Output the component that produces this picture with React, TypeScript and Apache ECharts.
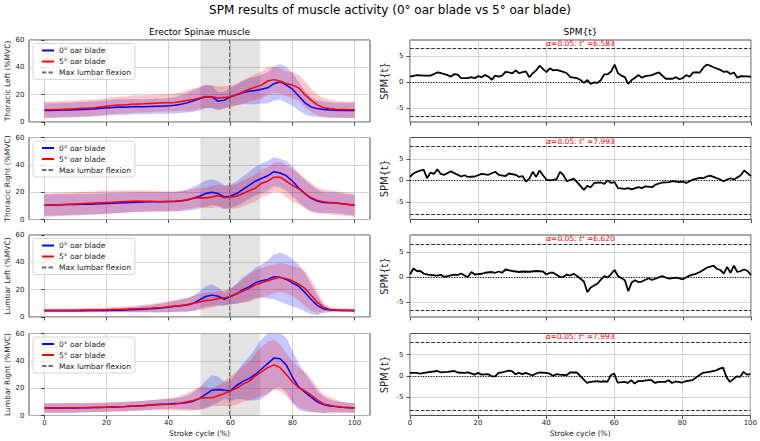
import { useEffect, useRef } from "react";
import * as echarts from "echarts";

// ---------------------------------------------------------------------------
// Data
// ---------------------------------------------------------------------------

// Stroke-cycle sample points (% of stroke) for the EMG mean / SD curves
const strokePct = [
  0, 2, 4, 6, 8, 10, 12, 14, 16, 18, 20, 22, 24, 26, 28, 30, 32, 34, 36, 38, 40,
  42, 44, 46, 48, 50, 52, 54, 56, 58, 60, 62, 64, 66, 68, 70, 72, 74, 76, 78, 80,
  82, 84, 86, 88, 90, 92, 94, 96, 98, 100,
];

const muscles = ["Thoracic Left", "Thoracic Right", "Lumbar Left", "Lumbar Right"];
const conditions = ["0° oar blade", "5° oar blade"];
const flexionLabel = "Max lumbar flexion";

// Thoracic Left (%MVC)
const tlBlueMean = [8.5, 8.5, 8.6, 8.7, 8.8, 9.0, 9.2, 9.4, 9.6, 10.0, 10.3, 10.6, 11.0, 10.8, 11.2, 11.3, 11.2, 11.4, 11.6, 11.5, 11.8, 12.2, 13.0, 14.0, 15.5, 17.0, 18.5, 18.3, 15.2, 16.0, 18.5, 20.0, 21.5, 22.5, 23.0, 24.0, 25.0, 28.0, 29.5, 27.0, 24.0, 19.0, 14.0, 11.0, 9.8, 9.2, 8.8, 8.6, 8.5, 8.5, 8.5];
const tlBlueSd = [5.3, 5.3, 5.3, 5.3, 5.3, 5.4, 5.4, 5.5, 5.5, 5.6, 5.6, 5.7, 5.8, 5.6, 5.7, 5.6, 5.5, 5.6, 5.6, 5.6, 5.8, 6.0, 6.5, 7.0, 8.0, 8.5, 8.5, 8.0, 6.5, 6.0, 6.5, 7.5, 8.5, 9.5, 10.0, 10.5, 11.5, 12.5, 13.0, 13.0, 12.0, 10.5, 8.5, 7.0, 6.0, 5.8, 5.6, 5.5, 5.5, 5.5, 5.5];
const tlRedMean = [9.0, 9.0, 9.2, 9.3, 9.5, 9.7, 10.0, 10.2, 10.5, 11.0, 11.5, 12.0, 12.5, 12.5, 13.0, 13.2, 13.3, 13.5, 13.8, 14.0, 14.0, 14.3, 15.0, 15.8, 16.5, 17.5, 18.7, 18.5, 17.5, 18.0, 18.5, 20.0, 22.0, 24.0, 25.5, 27.0, 30.0, 31.0, 30.0, 28.0, 27.0, 25.0, 20.0, 16.0, 12.5, 10.5, 9.8, 9.4, 9.2, 9.0, 9.0];
const tlRedSd = [6.0, 6.0, 6.0, 6.0, 6.0, 6.0, 6.0, 6.0, 6.0, 6.0, 6.0, 6.2, 6.2, 6.2, 6.3, 6.3, 6.3, 6.3, 6.3, 6.3, 6.3, 6.5, 6.8, 7.5, 8.0, 8.0, 8.3, 8.5, 8.5, 8.3, 8.0, 8.2, 8.5, 9.0, 9.5, 10.0, 10.0, 9.5, 9.2, 9.2, 9.5, 9.5, 9.5, 8.5, 7.5, 7.0, 6.5, 6.2, 6.0, 6.0, 6.0];

// Thoracic Right (%MVC)
const trBlueMean = [10.5, 10.6, 10.7, 10.8, 10.9, 11.0, 11.1, 11.2, 11.4, 11.5, 11.7, 11.9, 12.1, 12.3, 12.5, 12.7, 12.8, 12.9, 13.0, 13.0, 13.1, 13.2, 13.5, 14.2, 15.5, 17.0, 19.0, 20.0, 19.0, 16.5, 17.0, 19.0, 22.0, 25.0, 28.0, 30.0, 32.0, 35.0, 34.0, 32.0, 28.0, 23.0, 19.0, 15.5, 13.5, 12.5, 12.2, 12.0, 11.5, 11.0, 10.5];
const trBlueSd = [7.8, 7.8, 7.7, 7.7, 7.6, 7.6, 7.5, 7.5, 7.5, 7.5, 7.5, 7.4, 7.3, 7.3, 7.2, 7.2, 7.1, 7.0, 7.0, 7.0, 7.0, 7.0, 7.2, 7.8, 8.5, 9.0, 9.5, 9.5, 9.0, 8.5, 8.5, 9.0, 9.5, 10.0, 10.5, 11.0, 11.0, 10.5, 10.5, 11.0, 11.0, 10.5, 10.0, 9.5, 8.5, 7.5, 7.5, 7.5, 7.5, 7.5, 7.5];
const trRedMean = [10.5, 10.6, 10.8, 11.0, 11.2, 11.4, 11.6, 11.8, 12.0, 12.3, 12.5, 12.7, 13.0, 13.2, 13.4, 13.5, 13.4, 13.3, 13.2, 13.2, 13.2, 13.4, 13.8, 14.5, 15.5, 16.0, 15.8, 16.5, 17.5, 16.0, 16.5, 17.0, 19.0, 21.0, 23.0, 26.5, 28.0, 31.0, 31.0, 28.0, 25.0, 22.5, 19.0, 16.0, 14.0, 13.0, 12.5, 12.0, 11.5, 11.0, 10.5];
const trRedSd = [8.5, 8.5, 8.5, 8.5, 8.5, 8.5, 8.5, 8.5, 8.5, 8.5, 8.5, 8.4, 8.3, 8.2, 8.0, 7.9, 7.8, 7.7, 7.6, 7.5, 7.5, 7.3, 7.2, 7.0, 7.0, 7.0, 7.5, 8.0, 8.3, 8.5, 8.5, 9.0, 9.5, 9.5, 10.0, 10.0, 10.3, 10.5, 11.0, 11.5, 12.0, 11.5, 11.0, 10.5, 9.5, 9.0, 8.8, 8.7, 8.6, 8.5, 8.5];

// Lumbar Left (%MVC)
const llBlueMean = [4.5, 4.5, 4.5, 4.5, 4.5, 4.6, 4.6, 4.7, 4.7, 4.8, 4.8, 4.9, 5.0, 5.1, 5.3, 5.5, 5.7, 6.0, 6.3, 6.7, 7.2, 7.8, 8.3, 8.8, 10.0, 12.5, 15.0, 16.0, 15.2, 13.0, 15.0, 17.0, 20.0, 22.0, 25.0, 26.5, 27.5, 29.5, 29.0, 27.5, 25.0, 22.5, 18.0, 13.0, 8.5, 6.0, 5.2, 5.0, 4.8, 4.7, 4.6];
const llBlueSd = [1.0, 1.0, 1.0, 1.0, 1.1, 1.1, 1.2, 1.2, 1.3, 1.3, 1.4, 1.4, 1.5, 1.6, 1.8, 2.0, 2.3, 2.6, 3.0, 3.3, 3.6, 4.0, 4.5, 5.0, 5.5, 6.5, 7.5, 8.0, 6.5, 4.5, 5.5, 7.5, 9.0, 10.0, 11.0, 12.0, 14.0, 16.5, 18.0, 18.0, 17.5, 16.0, 14.0, 11.0, 7.0, 3.0, 1.5, 1.2, 1.0, 1.0, 1.0];
const llRedMean = [5.0, 5.0, 5.0, 5.0, 5.0, 5.0, 5.1, 5.1, 5.2, 5.2, 5.3, 5.4, 5.5, 5.7, 5.9, 6.0, 6.2, 6.4, 6.7, 7.0, 7.5, 8.0, 8.5, 9.0, 10.0, 11.0, 12.0, 12.5, 13.5, 14.0, 15.0, 17.0, 19.0, 21.0, 23.5, 25.0, 26.5, 28.0, 29.0, 28.0, 26.5, 24.0, 21.0, 16.0, 11.0, 7.0, 5.5, 5.1, 5.0, 5.0, 5.0];
const llRedSd = [1.2, 1.2, 1.2, 1.3, 1.3, 1.4, 1.4, 1.5, 1.5, 1.6, 1.6, 1.7, 1.8, 2.0, 2.2, 2.5, 2.8, 3.0, 3.3, 3.6, 4.0, 4.3, 4.7, 5.0, 5.5, 6.0, 6.0, 5.8, 5.5, 5.5, 6.0, 7.0, 8.5, 10.0, 10.5, 11.0, 11.0, 10.5, 10.5, 10.8, 11.0, 12.0, 13.0, 11.5, 8.0, 3.0, 1.3, 1.2, 1.2, 1.2, 1.2];

// Lumbar Right (%MVC)
const lrBlueMean = [5.5, 5.5, 5.5, 5.5, 5.5, 5.5, 5.6, 5.7, 5.8, 5.9, 6.0, 6.2, 6.4, 6.5, 6.8, 7.0, 7.3, 7.7, 8.0, 8.3, 8.5, 8.8, 9.0, 9.5, 10.5, 12.5, 15.5, 18.5, 19.0, 18.5, 18.0, 22.0, 25.0, 27.0, 30.0, 34.0, 38.0, 42.0, 41.5, 37.0, 28.0, 21.0, 17.0, 13.5, 10.0, 8.0, 7.0, 6.5, 6.0, 5.8, 5.5];
const lrBlueSd = [3.5, 3.5, 3.5, 3.4, 3.4, 3.4, 3.3, 3.3, 3.3, 3.3, 3.3, 3.3, 3.3, 3.4, 3.4, 3.4, 3.4, 3.5, 3.5, 3.5, 3.5, 3.8, 4.2, 5.0, 6.5, 8.0, 10.0, 11.0, 9.5, 6.0, 7.0, 10.0, 13.0, 16.0, 19.0, 22.0, 22.5, 22.0, 21.0, 20.0, 19.0, 17.0, 14.0, 11.0, 8.0, 6.0, 4.5, 4.0, 3.8, 3.6, 3.5];
const lrRedMean = [5.5, 5.5, 5.5, 5.5, 5.6, 5.6, 5.7, 5.8, 5.9, 6.0, 6.0, 6.2, 6.4, 6.5, 6.8, 7.0, 7.2, 7.5, 7.8, 8.0, 8.2, 8.5, 9.0, 10.0, 11.0, 12.5, 13.0, 13.0, 14.5, 16.0, 18.0, 20.0, 23.0, 25.0, 29.0, 32.0, 35.0, 37.0, 35.0, 30.0, 24.5, 20.5, 18.0, 15.0, 11.5, 8.5, 7.5, 6.5, 6.0, 5.7, 5.5];
const lrRedSd = [3.5, 3.5, 3.5, 3.5, 3.5, 3.5, 3.5, 3.5, 3.5, 3.5, 3.5, 3.5, 3.5, 3.5, 3.5, 3.5, 3.6, 3.7, 3.8, 4.0, 4.3, 4.7, 5.5, 6.5, 7.5, 8.5, 8.0, 6.5, 7.5, 9.0, 11.0, 12.0, 13.0, 14.0, 16.0, 18.0, 19.0, 18.5, 17.0, 16.0, 15.0, 14.5, 14.0, 12.0, 9.0, 7.0, 6.0, 5.0, 4.0, 3.7, 3.5];

// SPM{t} trajectories: [stroke %, t]
const spmThoracicLeft: [number, number][] = [[0, 1.1], [2, 1.4], [4, 1.3], [6, 1.3], [8, 1.9], [9, 1.8], [11, 1.4], [12, 1.1], [13, 1.6], [14, 1.5], [15, 0.8], [17, 0.8], [18, 1.0], [19, 0.8], [20, 1.2], [21, 1.0], [22, 1.4], [23, 1.1], [24, 0.5], [25, 1.3], [26, 1.1], [27, 1.3], [28, 2.0], [29, 1.9], [30, 1.75], [31, 2.3], [32, 1.75], [33, 1.95], [34, 2.1], [35, 1.0], [36, 1.75], [37, 2.3], [38, 3.2], [39, 2.6], [40, 1.95], [41, 2.7], [42, 2.3], [43, 2.4], [45, 2.0], [46, 1.75], [47, 1.0], [49, 0.8], [50, 0.45], [51, -0.1], [52, 0.45], [53, -0.3], [54, 0], [55, -0.1], [56, 0.45], [57, 1.55], [58, 1.55], [59, 2.1], [60, 3.4], [61, 1.75], [62, 1.3], [63, 1.0], [64, -0.3], [65, 0.45], [66, 0.9], [67, 1.4], [68, 0.9], [69, 1.2], [71, 1.4], [72, 1.7], [73, 1.9], [74, 1.3], [75, 0.7], [77, 0.7], [78, 1.0], [79, 0.6], [80, 0.8], [81, 1.4], [82, 1.1], [83, 1.9], [85, 1.9], [86, 2.8], [87, 3.4], [88, 3.2], [89, 2.9], [91, 2.4], [92, 2.0], [93, 2.1], [94, 1.6], [95, 1.9], [96, 0.9], [97, 1.2], [100, 1.1]];
const spmThoracicRight: [number, number][] = [[0, 0.8], [1, 1.6], [2, 2.0], [3, 2.3], [4, 2.5], [5, 0.5], [6, 1.8], [7, 1.5], [8, 2.6], [9, 1.5], [10, 1.3], [12, 2.1], [13, 1.7], [15, 0.9], [16, 1.2], [17, 0.8], [19, 0.9], [20, 1.2], [21, 1.5], [23, 1.3], [25, 2.0], [26, 1.3], [28, 1.0], [29, 1.6], [31, 1.3], [32, 0.8], [33, 1.0], [34, -0.3], [35, 0.4], [36, 2.0], [37, 0.8], [38, 2.3], [39, 1.2], [40, 0.2], [41, 0], [42, 0.1], [43, 0.3], [44, 2.0], [45, 1.2], [46, -0.2], [48, 0.4], [49, -0.4], [51, -2.2], [52, -1.3], [53, -1.6], [54, -0.6], [56, -0.5], [57, -0.8], [58, 0], [59, -0.6], [60, -0.4], [61, -1.8], [63, -2.0], [64, -1.8], [65, -2.1], [67, -1.6], [68, -1.8], [69, -1.4], [71, -1.6], [72, -1.0], [74, -0.5], [76, -0.4], [77, -0.2], [79, -0.4], [80, -0.3], [81, -0.6], [82, -0.2], [83, 0.2], [85, 0.6], [86, 0.5], [87, 0.9], [88, 1.1], [89, 0.8], [91, 0.2], [92, -0.2], [93, 0.2], [94, 0.5], [95, 0.2], [97, 1.2], [98, 2.3], [100, 1.0]];
const spmLumbarLeft: [number, number][] = [[0, 0.5], [1, 1.7], [2, 1.2], [3, 1.2], [4, 0.7], [6, 0.4], [8, 0.3], [9, 0.45], [10, 0.05], [11, 0.2], [13, 0.5], [14, 0.4], [15, 0.7], [16, 0.3], [17, 0], [18, 1.0], [19, 0.5], [21, 0.65], [22, 0.85], [24, 1.0], [25, 0.85], [26, 1.1], [27, 0.85], [28, 1.5], [30, 1.2], [32, 1.0], [33, 1.1], [35, 1.05], [37, 1.2], [39, 1.1], [40, 0.5], [41, 0.85], [42, 0.85], [44, 0], [45, 0.05], [46, 0.5], [47, 0.3], [48, 0.65], [49, 0.2], [51, -0.9], [52, -3.0], [53, -2.1], [55, -1.3], [56, -0.5], [57, 0.2], [58, -0.1], [60, 1.4], [61, 0.2], [63, -0.65], [64, -2.8], [65, -1.1], [66, -0.65], [67, -1.0], [68, -0.9], [70, -0.25], [71, -0.6], [72, -0.3], [74, 0.2], [75, -0.1], [76, -0.3], [78, -0.1], [79, -0.25], [80, -0.45], [82, 0.3], [84, 0.7], [85, 1.0], [86, 1.4], [87, 1.85], [89, 2.25], [90, 1.65], [91, 1.4], [92, 0.7], [93, 2.0], [94, 0.85], [95, 2.25], [96, 1.0], [97, 1.2], [98, 1.5], [99, 1.2], [100, 0.4]];
const spmLumbarRight: [number, number][] = [[0, 0.7], [2, 0.7], [3, 0.55], [5, 0.85], [8, 1.15], [9, 0.85], [11, 0.95], [13, 1.15], [14, 0.8], [16, 0.7], [17, 0.85], [19, 0.3], [20, 0.7], [21, 0.3], [23, 0.4], [24, -0.1], [25, -0.1], [26, 0.7], [27, 0.8], [29, 1.25], [30, 1.1], [31, 0.4], [32, 0.7], [33, 0.4], [34, 0.7], [36, 0.1], [37, 0.55], [38, 0.8], [40, 0.7], [41, 0.55], [42, 0], [43, 0.4], [44, 0.3], [46, 0.15], [47, 0.8], [49, 0.8], [50, 0], [52, -1.65], [53, -1.4], [55, -1.2], [56, -1.4], [57, -1.25], [58, -1.4], [59, 0.15], [60, 0.55], [61, -1.55], [63, -1.4], [64, -1.65], [65, -1.0], [66, -1.8], [67, -1.2], [68, -1.2], [70, -1.0], [71, -1.0], [72, -1.65], [73, -1.4], [75, -1.4], [76, -1.0], [77, -1.65], [78, -1.3], [80, -1.55], [81, -1.25], [83, -1.0], [84, -0.4], [85, 0.15], [86, 0.7], [87, 0.85], [88, 0.95], [90, 1.3], [91, 1.7], [92, 1.95], [93, -0.3], [94, -1.4], [96, -0.1], [97, -0.25], [98, 0.95], [99, 0.3], [100, 0.4]];

// Critical thresholds (alpha = 0.05) for each SPM test
const spmThresholds = [6.583, 7.993, 6.62, 7.993];
// y-limits of the SPM panels
const spmYLimits: [number, number][] = [[-7.6, 8.13], [-9.13, 10.0], [-7.96, 8.37], [-9.27, 9.93]];
const spmYTicks = [-5, 0, 5];

const strokeTicks = [0, 20, 40, 60, 80, 100];
const emgYLimits: [number, number] = [0, 60];
const maxFlexionPct = 59.7;
const flexionWindow: [number, number] = [50.3, 69.6];

const emgRows = [
  { blueMean: tlBlueMean, blueSd: tlBlueSd, redMean: tlRedMean, redSd: tlRedSd },
  { blueMean: trBlueMean, blueSd: trBlueSd, redMean: trRedMean, redSd: trRedSd },
  { blueMean: llBlueMean, blueSd: llBlueSd, redMean: llRedMean, redSd: llRedSd },
  { blueMean: lrBlueMean, blueSd: lrBlueSd, redMean: lrRedMean, redSd: lrRedSd },
];
const spmRows = [spmThoracicLeft, spmThoracicRight, spmLumbarLeft, spmLumbarRight];

// ---------------------------------------------------------------------------
// Layout & style
// ---------------------------------------------------------------------------
const FONT = "DejaVu Sans";
const INK = "#222222";
const GRID_LINE = "#c8c8c8";
const BLUE = "#0000ff";
const RED = "#ff0000";
const COL_LEFT = [29, 410];
const PLOT_W = 341;
const PLOT_H = 82;
const ROW_TOP = [40, 137.5, 235, 333.5];

const clampEmg = (v: number) => Math.min(emgYLimits[1], Math.max(emgYLimits[0], v));

// mean ± SD band, drawn as one translucent polygon through the axis scales
function bandSeries(axis: number, mean: number[], sd: number[], color: string) {
  return {
    type: "custom",
    xAxisIndex: axis,
    yAxisIndex: axis,
    silent: true,
    z: 2,
    data: [[strokePct[0], mean[0]]],
    renderItem: (_params: any, api: any) => {
      const upper = strokePct.map((x, i) => api.coord([x, clampEmg(mean[i] + sd[i])]));
      const lower = strokePct.map((x, i) => api.coord([x, clampEmg(mean[i] - sd[i])])).reverse();
      return {
        type: "polygon",
        silent: true,
        shape: { points: upper.concat(lower) },
        style: { fill: color, opacity: 0.22 },
      };
    },
  };
}

function buildOption() {
  const grid: any[] = [];
  const xAxis: any[] = [];
  const yAxis: any[] = [];
  const series: any[] = [];
  const legend: any[] = [];

  const tickStyle = { show: true, length: 3.5, lineStyle: { color: INK, width: 0.8 } };
  const splitStyle = { show: true, lineStyle: { color: GRID_LINE, width: 0.8 } };

  muscles.forEach((muscle, r) => {
    const last = r === muscles.length - 1;
    for (let c = 0; c < 2; c++) {
      grid.push({
        left: COL_LEFT[c],
        top: ROW_TOP[r],
        width: PLOT_W,
        height: PLOT_H,
        show: true,
        borderColor: INK,
        borderWidth: 0.8,
        backgroundColor: "rgba(0,0,0,0)",
      });
    }
    const ea = 2 * r; // EMG axis index
    const sa = 2 * r + 1; // SPM axis index

    // EMG panel axes
    xAxis.push({
      gridIndex: ea,
      type: "value",
      min: -5,
      max: 105,
      axisLine: { show: false, onZero: false },
      axisTick: { ...tickStyle, customValues: strokeTicks },
      axisLabel: { show: last, customValues: strokeTicks, fontSize: 7, color: INK, margin: 4, fontFamily: FONT },
      splitLine: splitStyle,
      name: last ? "Stroke cycle (%)" : "",
      nameLocation: "middle",
      nameGap: 14,
      nameTextStyle: { fontSize: 7.5, color: INK, fontFamily: FONT },
    });
    yAxis.push({
      gridIndex: ea,
      type: "value",
      min: emgYLimits[0],
      max: emgYLimits[1],
      interval: 20,
      axisLine: { show: false },
      axisTick: tickStyle,
      axisLabel: { fontSize: 7, color: INK, margin: 4.5, fontFamily: FONT },
      splitLine: splitStyle,
      name: `${muscle} (%MVC)`,
      nameLocation: "middle",
      nameGap: 17,
      nameTextStyle: { fontSize: 7.5, color: INK, fontFamily: FONT },
    });

    // SPM panel axes
    xAxis.push({
      gridIndex: sa,
      type: "value",
      min: 0,
      max: 100,
      interval: 20,
      axisLine: { show: false, onZero: false },
      axisTick: tickStyle,
      axisLabel: { show: last, fontSize: 7, color: INK, margin: 4, fontFamily: FONT },
      splitLine: splitStyle,
      name: last ? "Stroke cycle (%)" : "",
      nameLocation: "middle",
      nameGap: 14,
      nameTextStyle: { fontSize: 7.5, color: INK, fontFamily: FONT },
    });
    yAxis.push({
      gridIndex: sa,
      type: "value",
      min: spmYLimits[r][0],
      max: spmYLimits[r][1],
      axisLine: { show: false, onZero: false },
      axisTick: { ...tickStyle, customValues: spmYTicks },
      axisLabel: { customValues: spmYTicks, fontSize: 7, color: INK, margin: 6.5, fontFamily: FONT },
      splitLine: splitStyle,
      name: "SPM{t}",
      nameLocation: "middle",
      nameGap: 21,
      nameTextStyle: { fontSize: 10, color: INK, fontFamily: FONT },
    });

    // EMG panel: SD bands, means, max-flexion marker
    const row = emgRows[r];
    series.push(bandSeries(ea, row.blueMean, row.blueSd, BLUE));
    series.push(bandSeries(ea, row.redMean, row.redSd, RED));
    series.push({
      name: conditions[0],
      type: "line",
      xAxisIndex: ea,
      yAxisIndex: ea,
      symbol: "none",
      silent: true,
      z: 3,
      lineStyle: { color: BLUE, width: 1.5 },
      itemStyle: { color: BLUE },
      data: strokePct.map((x, i) => [x, row.blueMean[i]]),
    });
    series.push({
      name: conditions[1],
      type: "line",
      xAxisIndex: ea,
      yAxisIndex: ea,
      symbol: "none",
      silent: true,
      z: 3,
      lineStyle: { color: RED, width: 1.5 },
      itemStyle: { color: RED },
      data: strokePct.map((x, i) => [x, row.redMean[i]]),
    });
    series.push({
      name: flexionLabel,
      type: "line",
      xAxisIndex: ea,
      yAxisIndex: ea,
      symbol: "none",
      silent: true,
      z: 4,
      lineStyle: { color: "#6e6e6e", width: 1.2, type: [4.5, 2] },
      itemStyle: { color: "#6e6e6e" },
      data: [
        [maxFlexionPct, emgYLimits[0]],
        [maxFlexionPct, emgYLimits[1]],
      ],
      markArea: {
        silent: true,
        itemStyle: { color: "rgba(128,128,128,0.22)" },
        data: [[{ xAxis: flexionWindow[0] }, { xAxis: flexionWindow[1] }]],
      },
    });

    // SPM panel: t trajectory, thresholds, zero line
    const t = spmThresholds[r];
    series.push({
      name: `SPM ${muscle}`,
      type: "line",
      xAxisIndex: sa,
      yAxisIndex: sa,
      symbol: "none",
      silent: true,
      z: 3,
      lineStyle: { color: "#000", width: 1.8 },
      data: spmRows[r],
      markLine: {
        silent: true,
        symbol: "none",
        label: { show: false },
        data: [
          {
            yAxis: t,
            lineStyle: { color: "#333", width: 1, type: [3.7, 1.6] },
            label: {
              show: true,
              position: "insideMiddleTop",
              distance: 1,
              formatter: `{m|α}{n|=0.05: }{m|t}{s|*}{n| =${t.toFixed(3)}}`,
              rich: {
                m: { fontSize: 7.5, fontStyle: "italic", color: RED, fontFamily: FONT },
                n: { fontSize: 7.5, color: RED, fontFamily: FONT },
                s: { fontSize: 5.5, color: RED, fontFamily: FONT, verticalAlign: "top" },
              },
            },
          },
          { yAxis: -t, lineStyle: { color: "#333", width: 1, type: [3.7, 1.6] } },
          { yAxis: 0, lineStyle: { color: "#000", width: 1, type: [1, 1.6] } },
        ],
      },
    });

    legend.push({
      data: [conditions[0], conditions[1], flexionLabel],
      orient: "vertical",
      left: 33,
      top: ROW_TOP[r] + 3.5,
      itemWidth: 12,
      itemHeight: 8,
      itemGap: 3,
      padding: [3, 4, 3, 8],
      selectedMode: false,
      itemStyle: { opacity: 0 },
      backgroundColor: "rgba(255,255,255,0.8)",
      borderColor: "#cccccc",
      borderWidth: 0.8,
      borderRadius: 2.5,
      textStyle: { fontSize: 7.5, color: INK, fontFamily: FONT },
    });
  });

  return {
    animation: false,
    textStyle: { fontFamily: FONT },
    grid,
    xAxis,
    yAxis,
    series,
    legend,
    graphic: [
      {
        type: "text",
        x: (COL_LEFT[0] + COL_LEFT[1] + PLOT_W) / 2,
        y: 9.5,
        silent: true,
        style: {
          text: "SPM results of muscle activity (0° oar blade vs 5° oar blade)",
          align: "center",
          verticalAlign: "middle",
          fontSize: 12,
          fontFamily: FONT,
          fill: "#000",
        },
      },
      {
        type: "text",
        x: COL_LEFT[0] + PLOT_W / 2,
        y: 32,
        silent: true,
        style: {
          text: "Erector Spinae muscle",
          align: "center",
          verticalAlign: "middle",
          fontSize: 9,
          fontFamily: FONT,
          fill: "#000",
        },
      },
      {
        type: "text",
        x: COL_LEFT[1] + PLOT_W / 2,
        y: 32,
        silent: true,
        style: {
          text: "SPM{t}",
          align: "center",
          verticalAlign: "middle",
          fontSize: 9,
          fontFamily: FONT,
          fill: "#000",
        },
      },
    ],
  };
}

export default function App() {
  const ref = useRef<HTMLDivElement>(null);
  useEffect(() => {
    if (!ref.current) return;
    const chart = echarts.init(ref.current, null, { renderer: "svg" });
    chart.setOption(buildOption() as any);
    return () => chart.dispose();
  }, []);
  return (
    <div
      ref={ref}
      style={{ position: "fixed", left: 0, top: 0, width: 760, height: 441, background: "#fff" }}
    />
  );
}
